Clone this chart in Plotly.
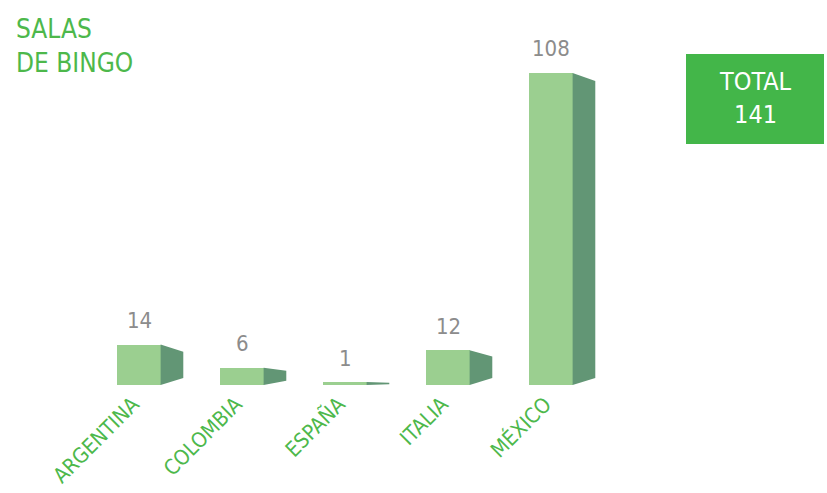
import plotly.graph_objects as go

# Bingo halls per country
countries = ["ARGENTINA", "COLOMBIA", "ESPAÑA", "ITALIA", "MÉXICO"]
halls = [14, 6, 1, 12, 108]
total_label = "TOTAL"
title_lines = ["SALAS", "DE BINGO"]

FRONT = "#9BCF90"
SIDE = "#629675"
GREEN = "#4DB84B"
BOX = "#43B649"
GREY = "#8C8C8C"
FONT = "Liberation Sans Narrow, DejaVu Sans Condensed, Arial Narrow, sans-serif"

BAR_W = 0.42      # width of the front face, in category units
DEPTH = 0.22      # horizontal depth of the shaded side face

W, H = 827, 493
BASE_PX = 385     # pixel row of the baseline
PX_PER_UNIT = 2.889

fig = go.Figure()

# front faces
fig.add_trace(go.Bar(
    x=list(range(len(countries))), y=halls, width=BAR_W,
    marker=dict(color=FRONT, line=dict(width=0)),
    hoverinfo="skip", showlegend=False,
))

# shaded side faces, narrowing toward the back
for i, v in enumerate(halls):
    x0 = i + BAR_W / 2
    x1 = x0 + DEPTH
    top_r = v - min(2.8, 0.18 * v)
    bot_r = min(2.4, 0.25 * v)
    fig.add_trace(go.Scatter(
        x=[x0, x1, x1, x0, x0],
        y=[0, bot_r, top_r, v, 0],
        mode="lines", fill="toself", fillcolor=SIDE,
        line=dict(width=0, color=SIDE),
        hoverinfo="skip", showlegend=False,
    ))

# value labels above each bar
for i, v in enumerate(halls):
    fig.add_annotation(
        x=i, y=v, text=str(v), showarrow=False,
        yanchor="middle", yshift=24,
        font=dict(family=FONT, size=22, color=GREY),
    )

plot_h = BASE_PX

def py(px):
    """Convert a pixel row (from the top) to paper y in the plot area."""
    return 1 - px / plot_h

# title
fig.add_annotation(
    xref="paper", yref="paper", x=14 / W, y=py(12),
    xanchor="left", yanchor="top", align="left",
    text="<br>".join(title_lines), showarrow=False,
    font=dict(family=FONT, size=26, color=GREEN),
)

# total box
fig.add_shape(
    type="rect", xref="paper", yref="paper",
    x0=686 / W, x1=824 / W, y0=py(144), y1=py(54),
    fillcolor=BOX, line=dict(width=0), layer="below",
)
fig.add_annotation(
    xref="paper", yref="paper", x=755 / W, y=py(98),
    xanchor="center", yanchor="middle", align="center",
    text=f"{total_label}<br>{sum(halls)}", showarrow=False,
    font=dict(family=FONT, size=25, color="white"),
)

n = len(countries)
left_units = 139 / 103
fig.update_layout(
    width=W, height=H,
    margin=dict(l=0, r=0, t=0, b=H - BASE_PX, autoexpand=False),
    plot_bgcolor="white", paper_bgcolor="white",
    bargap=0,
    xaxis=dict(
        range=[-left_units, -left_units + W / 103],
        tickmode="array", tickvals=list(range(n)), ticktext=countries,
        tickangle=-45, tickfont=dict(family=FONT, size=21, color=GREEN),
        showgrid=False, zeroline=False, showline=False, ticks="",
        ticklabelshift=-6, ticklabelstandoff=2,
        automargin=False, fixedrange=True,
    ),
    yaxis=dict(
        range=[0, BASE_PX / PX_PER_UNIT],
        visible=False, showgrid=False, zeroline=False,
        automargin=False, fixedrange=True,
    ),
)

fig.write_html("out.html")
